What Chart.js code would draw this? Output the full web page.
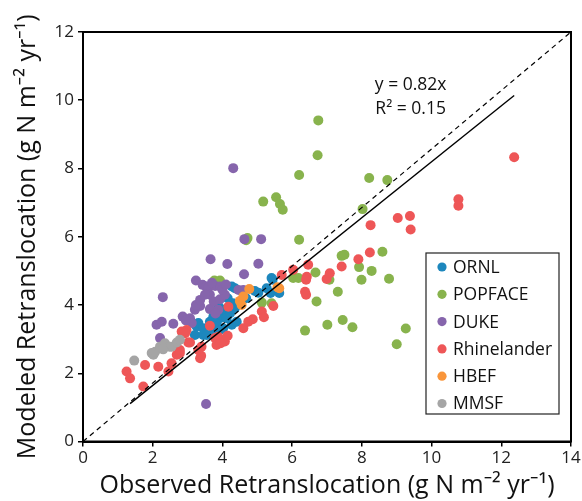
<!DOCTYPE html>
<html>
<head>
<meta charset="utf-8">
<script src="https://cdn.jsdelivr.net/npm/chart.js@4"></script>
<style>
  html, body { margin: 0; padding: 0; background: #fff; }
  #wrap { width: 582px; height: 501px; }
</style>
</head>
<body>
<div id="wrap"><canvas id="grafik" width="582" height="501"></canvas></div>
<script>
// data, [observed, modeled]
const ornl = [[3.21,3.12],[3.26,3.37],[3.31,3.47],[3.45,3.32],[3.45,3.12],[3.55,3.12],[3.64,3.51],[3.74,3.22],
  [3.83,3.42],[3.93,3.61],[3.93,3.27],[4.02,3.32],[4.02,3.66],[4.07,3.86],[4.12,3.61],[4.22,3.76],[4.27,3.42],
  [4.36,3.91],[4.41,3.51],[4.3,4.05],[4.15,4.2],[4.27,4.54],[4.36,4.49],[4.68,4.2],[4.93,4.41],[5.03,4.36],
  [5.38,4.35],[5.27,4.49],[5.44,4.74],[5.41,4.79],[5.63,4.35],[3.9,3.95],[4.2,3.95],[3.74,3.66]];
const popface = [[6.75,9.41],[6.73,8.39],[6.2,7.81],[8.21,7.72],[8.73,7.66],[8.02,6.81],[6.2,5.91],[5.17,7.03],
  [5.54,7.16],[5.65,6.96],[5.73,6.79],[4.72,5.96],[4.68,5.9],[3.77,4.72],[3.93,4.72],[3.79,4.64],[6.67,4.95],
  [6.03,4.79],[6.18,4.79],[5.41,4.05],[5.13,4.07],[7.42,5.44],[7.5,5.47],[8.59,5.56],[7.92,5.11],[8.28,5.0],
  [7.99,4.74],[8.78,4.77],[7.07,4.74],[6.7,4.10],[7.31,4.39],[6.37,3.25],[7.01,3.42],[7.45,3.56],[7.73,3.35],
  [9.26,3.31],[9.0,2.85]];
const duke = [[4.31,8.01],[3.53,1.10],[2.29,4.23],[2.11,3.42],[2.26,3.51],[2.21,3.03],[2.59,3.45],[2.86,3.66],
  [3.07,3.61],[3.12,3.47],[3.21,3.86],[3.36,3.97],[3.24,4.72],[3.24,4.0],[3.36,4.15],[3.43,4.59],[3.53,4.54],
  [3.59,4.49],[3.64,4.3],[3.64,3.88],[3.75,4.1],[3.79,4.56],[3.88,3.86],[3.93,4.54],[3.93,4.17],[4.07,4.30],
  [4.0,4.45],[4.46,4.44],[4.6,4.44],[4.62,4.90],[3.66,5.34],[4.14,5.2],[5.03,5.21],[4.63,5.93],[5.11,5.93],
  [3.5,4.3],[3.7,4.65],[2.95,3.55],[3.8,3.75],[4.1,4.6]];
const rhinelander = [[1.25,2.05],[1.35,1.85],[1.73,1.61],[1.78,2.24],[2.16,2.19],[2.54,2.29],[2.45,2.05],
  [2.69,2.54],[2.78,2.59],[2.78,2.68],[2.83,3.22],[2.97,3.27],[2.93,3.17],[3.02,2.9],[3.07,2.9],[3.31,2.68],
  [3.4,2.78],[3.36,2.44],[3.39,2.51],[3.64,3.39],[3.79,3.03],[3.88,3.07],[4.07,2.93],[3.83,2.83],[3.95,2.88],
  [4.15,3.1],[4.17,3.95],[4.6,3.32],[4.74,3.51],[4.87,3.58],[5.13,3.81],[5.19,3.64],[5.46,3.97],[5.7,4.88],
  [6.03,5.03],[6.46,5.18],[6.42,4.83],[6.4,4.74],[6.37,4.39],[6.4,4.30],[6.99,4.76],[7.08,4.93],[7.42,5.13],
  [7.9,5.34],[8.23,5.54],[8.25,6.34],[9.03,6.55],[9.38,6.61],[9.4,6.21],[10.77,7.10],[10.77,6.91],[12.37,8.33]];
const hbef = [[4.77,4.47],[4.5,4.12],[4.55,4.0],[4.6,4.25],[5.58,4.52],[5.63,4.49]];
const mmsf = [[1.47,2.37],[1.97,2.59],[2.02,2.54],[2.07,2.63],[2.21,2.78],[2.35,2.88],[2.48,2.78],[2.54,2.78],
  [2.69,2.9],[2.78,2.98],[2.3,2.7]];

const siteNames = ['ORNL', 'POPFACE', 'DUKE', 'Rhinelander', 'HBEF', 'MMSF'];
const siteData = [ornl, popface, duke, rhinelander, hbef, mmsf];
const siteColors = ['#1d87bd', '#88b34d', '#8665ac', '#ee5657', '#f9953a', '#a5a5a5'];

const fitLine = [[1.35, 1.11], [12.37, 10.14]];
const oneToOne = [[0, 0], [14, 12]];
const fitText = ['y = 0.82x', 'R\u00b2 = 0.15'];
const fitTextPos = [9.4, 10.45];

const xTicks = [0, 2, 4, 6, 8, 10, 12, 14];
const yTicks = [0, 2, 4, 6, 8, 10, 12];

const FONT = '"Open Sans", "Noto Sans", sans-serif';

function toPts(arr) {
    return arr.map(p => ({ x: p[0], y: p[1] }));
}

let datasets = siteNames.map((nama, i) => ({
    label: nama,
    data: toPts(siteData[i]),
    backgroundColor: siteColors[i],
    borderWidth: 0,
    pointRadius: 5,
    showLine: false,
    order: 6 - i,
}));

datasets.push({
    label: 'fit',
    data: toPts(fitLine),
    showLine: true,
    borderColor: '#000',
    borderWidth: 1.4,
    pointRadius: 0,
    order: 0,
});
datasets.push({
    label: '1:1',
    data: toPts(oneToOne),
    showLine: true,
    borderColor: '#000',
    borderWidth: 1.2,
    borderDash: [5, 4],
    pointRadius: 0,
    order: 0,
});

// kotak, legenda dan teks persamaan
const extras = {
    id: 'extras',
    afterDraw(chart) {
        const ctx = chart.ctx;
        const a = chart.chartArea;
        const sx = chart.scales.x, sy = chart.scales.y;
        ctx.save();
        ctx.strokeStyle = '#000';
        ctx.lineWidth = 2;
        ctx.strokeRect(a.left, a.top, a.right - a.left, a.bottom - a.top);

        // persamaan
        ctx.fillStyle = '#111';
        ctx.font = '17.5px ' + FONT;
        ctx.textAlign = 'center';
        ctx.textBaseline = 'middle';
        const tx = sx.getPixelForValue(fitTextPos[0]);
        const ty = sy.getPixelForValue(fitTextPos[1]);
        ctx.fillText(fitText[0], tx, ty);
        ctx.fillText(fitText[1], tx, ty + 24);

        // legenda
        const lx = 426, ly = 253, lw = 133, lh = 161;
        ctx.fillStyle = '#fff';
        ctx.fillRect(lx, ly, lw, lh);
        ctx.lineWidth = 1.2;
        ctx.strokeStyle = '#222';
        ctx.strokeRect(lx, ly, lw, lh);
        ctx.textAlign = 'left';
        ctx.font = '17.5px ' + FONT;
        siteNames.forEach((nama, i) => {
            const y = ly + 14 + i * 27.3;
            ctx.fillStyle = siteColors[i];
            ctx.beginPath();
            ctx.arc(lx + 16, y, 4.6, 0, Math.PI * 2);
            ctx.fill();
            ctx.fillStyle = '#111';
            ctx.fillText(nama, lx + 27, y + 1);
        });
        ctx.restore();
    }
};

let config = {
    type: 'scatter',
    data: { datasets: datasets },
    options: {
        responsive: false,
        animation: false,
        events: [],
        layout: { padding: { top: 32, right: 11, left: 0, bottom: 0 } },
        plugins: {
            legend: { display: false },
            tooltip: { enabled: false },
        },
        scales: {
            x: {
                type: 'linear',
                min: 0, max: 14,
                afterBuildTicks: s => { s.ticks = xTicks.map(v => ({ value: v })); },
                afterFit: s => { s.height = 59.5; },
                grid: { drawOnChartArea: false, drawTicks: true, tickLength: 5, color: '#000', lineWidth: 1.5 },
                border: { display: true, color: '#000', width: 2 },
                ticks: { color: '#222', font: { family: FONT, size: 17 }, padding: 1 },
                title: {
                    display: true,
                    text: 'Observed Retranslocation (g N m\u207b\u00b2 yr\u207b\u00b9)',
                    color: '#111',
                    font: { family: FONT, size: 25 },
                    padding: { top: 0, bottom: 0 },
                },
            },
            y: {
                type: 'linear',
                min: 0, max: 12,
                afterBuildTicks: s => { s.ticks = yTicks.map(v => ({ value: v })); },
                afterFit: s => { s.width = 83; },
                grid: { drawOnChartArea: false, drawTicks: true, tickLength: 5, color: '#000', lineWidth: 1.5 },
                border: { display: true, color: '#000', width: 2 },
                ticks: { color: '#222', font: { family: FONT, size: 17 }, padding: 4 },
                title: {
                    display: true,
                    text: 'Modeled Retranslocation (g N m\u207b\u00b2 yr\u207b\u00b9)',
                    color: '#111',
                    font: { family: FONT, size: 25 },
                    padding: { top: 13, bottom: 0 },
                },
            },
        },
    },
    plugins: [extras],
};

let chart = new Chart(document.getElementById('grafik').getContext('2d'), config);
</script>
</body>
</html>
